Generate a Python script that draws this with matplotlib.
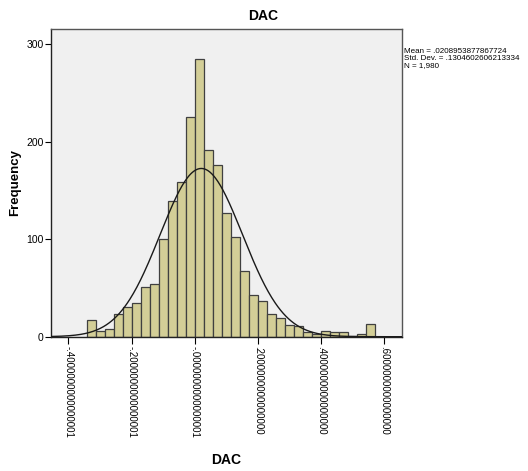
import matplotlib
matplotlib.use("Agg")
import matplotlib.pyplot as plt
import numpy as np

plt.rcParams['font.family'] = ['Liberation Sans', 'DejaVu Sans']

# histogram of DAC, bins of equal width starting 12 bins left of zero
bin_width = 0.0285
first_bin = -12
counts = [17, 6, 8, 23, 30, 35, 51, 54, 100, 139, 159, 225, 285, 191, 176,
          127, 102, 67, 43, 37, 23, 19, 12, 11, 5, 3, 6, 5, 5, 1, 3, 13]

mean = 0.0208953877867724
std_dev = 0.1304602606213334
n_obs = 1980

tick_values = [-0.4, -0.2, 0.0, 0.2, 0.4, 0.6]
tick_labels = ["-.4000000000000001", "-.2000000000000001", "-.0000000000000001",
               ".2000000000000000", ".4000000000000000", ".6000000000000000"]

fig = plt.figure(figsize=(5.28, 4.71), dpi=100)
ax = fig.add_axes([50.7 / 528, 1 - 336.7 / 471, (402 - 50.7) / 528, (336.7 - 29) / 471])
ax.set_facecolor('#f0f0f0')

edges = (np.arange(len(counts) + 1) + first_bin) * bin_width
ax.bar(edges[:-1], counts, width=bin_width, align='edge',
       color='#d3ce97', edgecolor='#404040', linewidth=0.9, zorder=2)

# fitted normal curve scaled to counts
xmin, xmax = -0.4557, 0.656
xs = np.linspace(xmin, xmax, 400)
ys = n_obs * bin_width / (std_dev * np.sqrt(2 * np.pi)) * np.exp(-0.5 * ((xs - mean) / std_dev) ** 2)
ax.plot(xs, ys, color='#1a1a1a', linewidth=1.0, zorder=3)

ax.set_xlim(xmin, xmax)
ax.set_ylim(0, 315.6)
ax.set_yticks([0, 100, 200, 300])
ax.set_xticks(tick_values, labels=tick_labels, rotation=-90, fontsize=7)
ax.tick_params(axis='y', labelsize=7.5, length=4, width=0.8, pad=1)
ax.tick_params(axis='x', length=5, width=0.8, pad=1.5)

for side in ['top', 'right']:
    ax.spines[side].set_color('#555555')
    ax.spines[side].set_linewidth(1.0)
for side in ['left', 'bottom']:
    ax.spines[side].set_color('#222222')
    ax.spines[side].set_linewidth(1.0)

fig.text(263 / 528, 1 - 16 / 471, 'DAC', ha='center', va='center',
         fontsize=10, fontweight='bold')
fig.text(226 / 528, 1 - 460 / 471, 'DAC', ha='center', va='center',
         fontsize=10, fontweight='bold')
fig.text(15 / 528, 1 - 183 / 471, 'Frequency', ha='center', va='center',
         rotation=90, fontsize=9.5, fontweight='bold')

stats = ("Mean = .0208953877867724\n"
         "Std. Dev. = .1304602606213334\n"
         "N = 1,980")
fig.text(404 / 528, 1 - 48 / 471, stats, ha='left', va='top', fontsize=5.8,
         linespacing=1.0, family=['Liberation Sans Narrow', 'Liberation Sans', 'DejaVu Sans'])

fig.savefig('out.png', dpi=100)
